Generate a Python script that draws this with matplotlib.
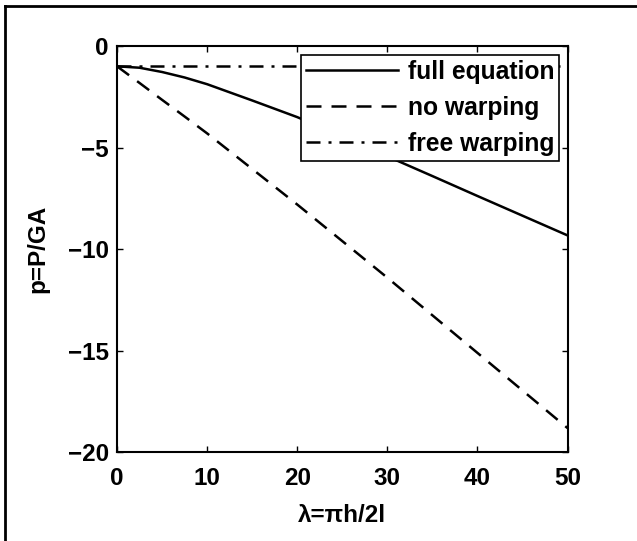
import matplotlib
matplotlib.use('Agg')
import matplotlib.pyplot as plt
from matplotlib.lines import Line2D

plt.rcParams['font.family'] = ['Liberation Sans', 'DejaVu Sans']
plt.rcParams['font.weight'] = 'bold'
plt.rcParams['axes.labelweight'] = 'bold'
plt.rcParams['font.size'] = 17.5

# values
lam = [0, 2.5, 5, 7.5, 10, 15, 20, 25, 30, 35, 40, 45, 50]
p_full = [-1.0, -1.07, -1.28, -1.55, -1.88, -2.68, -3.5, -4.45, -5.43, -6.4, -7.38, -8.35, -9.32]
p_nowarp = [-1.0, -1.82, -2.65, -3.47, -4.3, -6.05, -7.8, -9.6, -11.4, -13.25, -15.1, -16.95, -18.8]
p_free = [-1.0] * len(lam)

x_ticks = [0, 10, 20, 30, 40, 50]
y_ticks = [-20, -15, -10, -5, 0]

fig = plt.figure(figsize=(6.37, 5.41), dpi=100)
ax = fig.add_axes([0.1837, 0.1636, 0.7073, 0.7514])

lw = 1.8
ax.plot(lam, p_full, color='black', lw=lw, label='full equation')
ax.plot(lam, p_nowarp, color='black', lw=lw, dashes=(6, 4), label='no warping')
ax.plot(lam, p_free, color='black', lw=lw, dashes=(5.6, 3.2, 1.2, 3.2), label='free warping')

ax.set_xlim(0, 50)
ax.set_ylim(-20, 0)
ax.set_xticks(x_ticks)
ax.set_yticks(y_ticks)
ax.tick_params(direction='in', length=4, width=1, top=True, right=True)
ax.tick_params(axis='x', pad=10.5)
ax.tick_params(axis='y', pad=6)
for s in ax.spines.values():
    s.set_linewidth(1.5)

ax.set_xlabel('λ=πh/2l', labelpad=10)
ax.set_ylabel('p=P/GA', labelpad=13)

leg = ax.legend(loc='upper right', fancybox=False, framealpha=1, edgecolor='black',
                fontsize=17.7, handlelength=3.75, handletextpad=0.4, borderpad=0.2,
                labelspacing=0.5, borderaxespad=0.35)
leg.get_frame().set_linewidth(1.2)

# outer frame (only top and left edges show)
fig.add_artist(Line2D([5 / 637, 1], [1 - 6 / 541, 1 - 6 / 541], color='black', lw=2,
                      transform=fig.transFigure))
fig.add_artist(Line2D([5 / 637, 5 / 637], [0, 1 - 6 / 541], color='black', lw=2,
                      transform=fig.transFigure))

fig.savefig('out.png', dpi=100)
